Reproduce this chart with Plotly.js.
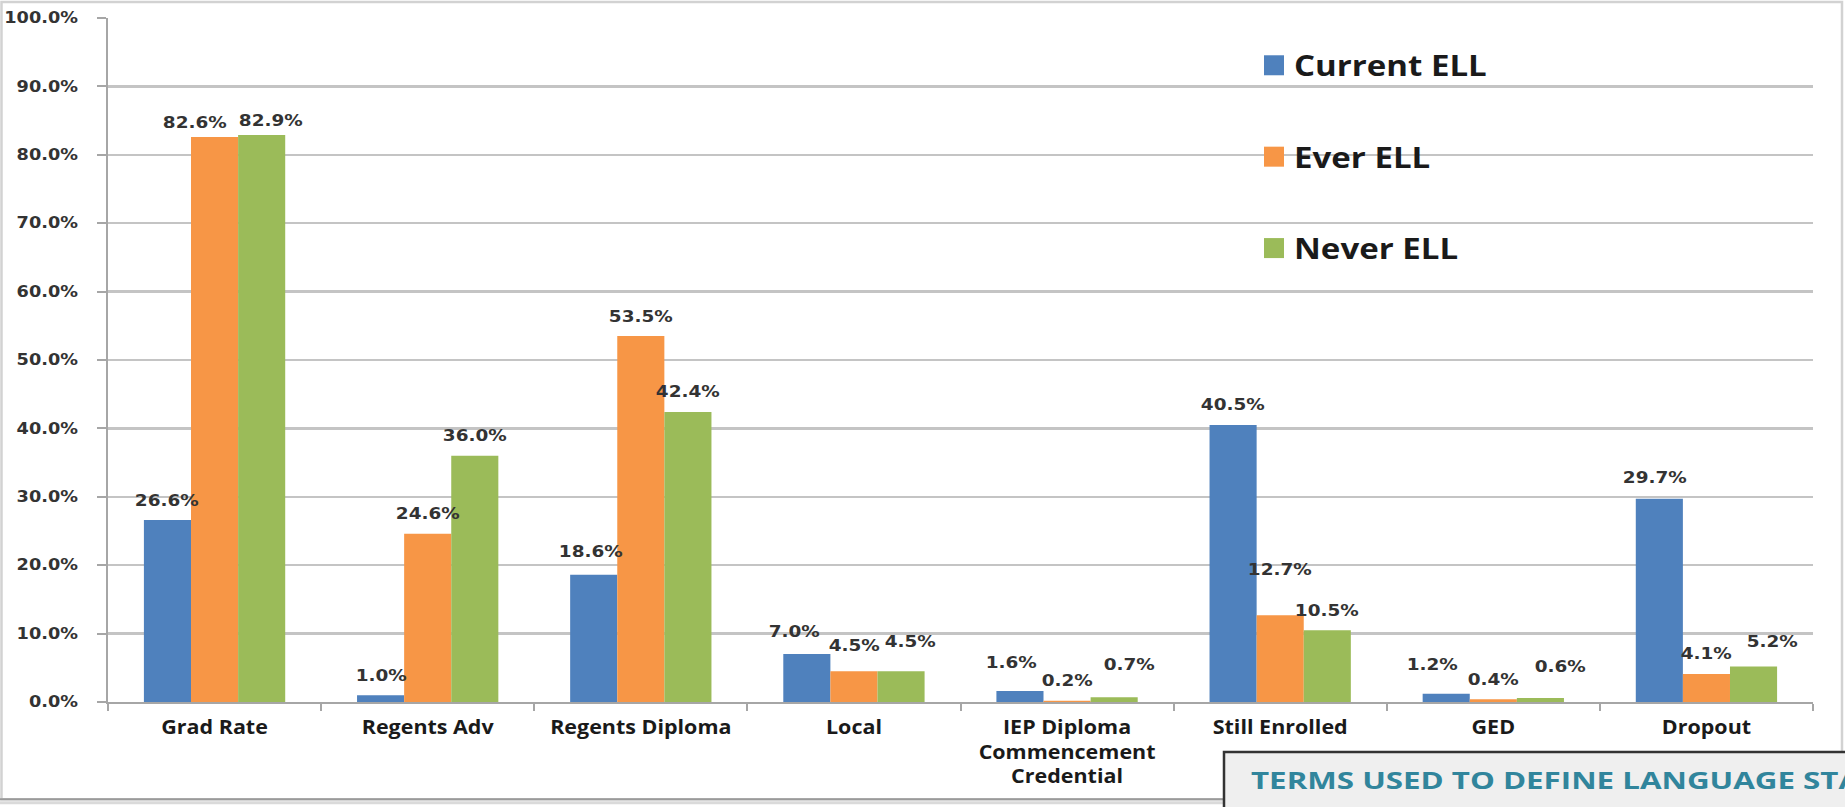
<!DOCTYPE html>
<html>
<head>
<meta charset="utf-8">
<script src="https://cdn.plot.ly/plotly-3.0.1.min.js"></script>
<style>
  html, body { margin: 0; padding: 0; background: #ffffff; }
  #chart { width: 1845px; height: 807px; }
</style>
</head>
<body>
<div id="chart"></div>
<script>
// Graduation outcomes by English Language Learner status
const categories = [
  "Grad Rate",
  "Regents Adv",
  "Regents Diploma",
  "Local",
  "IEP Diploma<br>Commencement<br>Credential",
  "Still Enrolled",
  "GED",
  "Dropout"
];
const currentELL = [26.6, 1.0, 18.6, 7.0, 1.6, 40.5, 1.2, 29.7];
const everELL    = [82.6, 24.6, 53.5, 4.5, 0.2, 12.7, 0.4, 4.1];
const neverELL   = [82.9, 36.0, 42.4, 4.5, 0.7, 10.5, 0.6, 5.2];
const seriesNames = ["Current ELL", "Ever ELL", "Never ELL"];
const seriesColors = ["#4F81BD", "#F79646", "#9BBB59"];

const numFont = "DejaVu Sans, Verdana, sans-serif";
const textFont = "Open Sans, Noto Sans, sans-serif";

// page geometry
const W = 1845, H = 807;
const M = { l: 108, r: 32, t: 17.6, b: 104.5 };
const plotW = W - M.l - M.r, plotH = H - M.t - M.b;
const BARGAP = 0.337;
const catW = plotW / categories.length;
const barW = catW * (1 - BARGAP) / 3;
const px = v => (v - M.l) / plotW;          // page x -> paper x
const py = v => (H - M.b - v) / plotH;      // page y -> paper y

// value labels sit above each bar; a few are nudged sideways/upwards (px)
const LABEL_LIFT = 20;
const labelNudge = {
  "1,0": [-20, -5], "2,0": [9, -6], "0,2": [-3, 3],
  "0,3": [-13, 3], "1,3": [0, 6], "2,3": [9, 10],
  "0,4": [-9, 9], "2,4": [15, 13],
  "1,5": [0, 26],
  "0,6": [-14, 9], "2,6": [20, 11],
  "0,7": [-4, 1], "2,7": [18, 5]
};

const seriesValues = [currentELL, everELL, neverELL];

const data = seriesValues.map((vals, i) => ({
  type: "bar",
  name: seriesNames[i],
  legendgroup: "g" + i,
  x: categories,
  y: vals,
  marker: { color: seriesColors[i], line: { width: 0 } },
  hoverinfo: "skip"
}));

const labelAnnotations = [];
seriesValues.forEach((vals, s) => {
  vals.forEach((v, k) => {
    const n = labelNudge[s + "," + k] || [0, 0];
    labelAnnotations.push({
      xref: "x", yref: "y", x: categories[k], y: v,
      text: v.toFixed(1) + "%",
      showarrow: false, xanchor: "center", yanchor: "middle",
      xshift: (s - 1) * barW + n[0], yshift: LABEL_LIFT + n[1],
      font: { family: numFont, size: 16, weight: 700, color: "#333333" }
    });
  });
});

const layout = {
  width: W,
  height: H,
  margin: M,
  paper_bgcolor: "#ffffff",
  plot_bgcolor: "#ffffff",
  barmode: "group",
  bargap: BARGAP,
  bargroupgap: 0,
  showlegend: true,
  legend: {
    x: px(1254), xanchor: "left",
    y: 0.967, yanchor: "top",
    bgcolor: "rgba(0,0,0,0)",
    tracegroupgap: 52,
    font: { family: textFont, size: 28, weight: 700, color: "#1a1a1a" }
  },
  xaxis: {
    type: "category",
    showgrid: false,
    showline: true,
    linecolor: "#a6a6a6",
    linewidth: 2,
    ticks: "outside",
    tickson: "boundaries",
    ticklen: 7,
    tickwidth: 2,
    tickcolor: "#a6a6a6",
    ticklabelstandoff: 7,
    tickfont: { family: textFont, size: 19, weight: 700, color: "#1a1a1a" },
    fixedrange: true
  },
  yaxis: {
    range: [0, 100],
    dtick: 10,
    tickformat: ".1f",
    ticksuffix: "%",
    showgrid: true,
    gridcolor: "#c4c4c4",
    gridwidth: 2.5,
    zeroline: false,
    showline: true,
    linecolor: "#a6a6a6",
    linewidth: 2,
    ticks: "outside",
    ticklen: 9,
    tickwidth: 2,
    tickcolor: "#a6a6a6",
    ticklabelstandoff: 16,
    tickfont: { family: numFont, size: 15, weight: 700, color: "#333333" },
    fixedrange: true
  },
  shapes: [
    // outer frame of the chart
    { type: "rect", xref: "paper", yref: "paper",
      x0: px(1.5), x1: px(1842), y0: py(800), y1: py(1.5),
      line: { color: "#d2d2d2", width: 2.5 }, fillcolor: "rgba(0,0,0,0)", layer: "below" },
    { type: "line", xref: "paper", yref: "paper",
      x0: px(0), x1: px(1845), y0: py(800), y1: py(800),
      line: { color: "#9a9a9a", width: 2 } },
    { type: "line", xref: "paper", yref: "paper",
      x0: px(0), x1: px(1845), y0: py(803.5), y1: py(803.5),
      line: { color: "#dadada", width: 3 } },
    // box holding the definitions heading
    { type: "rect", xref: "paper", yref: "paper",
      x0: px(1224), x1: px(1900), y0: py(830), y1: py(752.5),
      line: { color: "#333333", width: 2.5 }, fillcolor: "#efefef", layer: "above" }
  ],
  annotations: labelAnnotations.concat([
    { xref: "paper", yref: "paper",
      x: px(1249), y: py(781),
      xanchor: "left", yanchor: "middle", align: "left", showarrow: false,
      text: "TERMS USED TO DEFINE LANGUAGE STATUS",
      font: { family: textFont, size: 23, weight: 700, color: "#31859C" } }
  ])
};

// widen glyphs horizontally (the chart's lettering is set wide)
function widen(el, factor) {
  const lines = el.querySelectorAll("tspan.line");
  const targets = lines.length ? Array.from(lines) : [el];
  targets.forEach(t => {
    const len = t.getComputedTextLength();
    if (len > 0) {
      t.setAttribute("textLength", (len * factor).toFixed(2));
      t.setAttribute("lengthAdjust", "spacingAndGlyphs");
    }
  });
}

Plotly.newPlot("chart", data, layout, { displayModeBar: false, staticPlot: true }).then(gd => {
  const nLabels = labelAnnotations.length;
  gd.querySelectorAll("g.annotation").forEach(g => {
    const idx = +g.getAttribute("data-index");
    const t = g.querySelector("text.annotation-text");
    if (t) widen(t, idx < nLabels ? 1.15 : 1.36);
  });
  gd.querySelectorAll(".ytick text").forEach(t => widen(t, 1.18));
  gd.querySelectorAll(".xtick text").forEach(t => widen(t, 1.13));
  // legend entries: let the widened text run past the legend's clip box
  gd.querySelectorAll(".legend, .legend .scrollbox").forEach(g => g.removeAttribute("clip-path"));
  gd.querySelectorAll(".legendtext").forEach(t => widen(t, 1.18));
  // larger square swatches in the legend
  gd.querySelectorAll(".legendpoints path").forEach(p => p.setAttribute("d", "M10,10H-10V-10H10Z"));
});
</script>
</body>
</html>
